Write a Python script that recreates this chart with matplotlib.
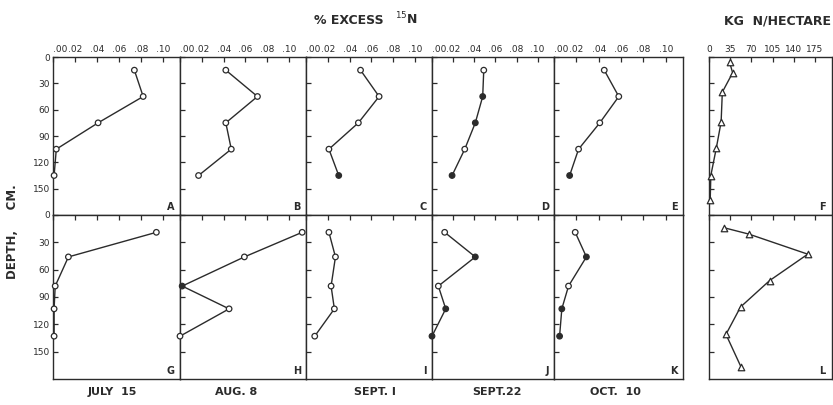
import matplotlib.pyplot as plt
import numpy as np

# depth (cm) of sampling points
depth_top = [15, 45, 75, 105, 135]
depth_bot = [19, 46, 78, 103, 133]

# % excess 15N, top row (A-E) and bottom row (G-K)
top_vals = {
    'A': [0.074, 0.082, 0.041, 0.003, 0.001],
    'B': [0.042, 0.071, 0.042, 0.047, 0.017],
    'C': [0.050, 0.067, 0.048, 0.021, 0.030],
    'D': [0.049, 0.048, 0.041, 0.031, 0.019],
    'E': [0.045, 0.058, 0.041, 0.022, 0.014],
}
bot_vals = {
    'G': [0.094, 0.014, 0.002, 0.001, 0.001],
    'H': [0.112, 0.059, 0.002, 0.045, 0.000],
    'I': [0.021, 0.027, 0.023, 0.026, 0.008],
    'J': [0.012, 0.041, 0.006, 0.013, 0.000],
    'K': [0.019, 0.029, 0.013, 0.007, 0.005],
}
filled = {'C': [4], 'D': [1, 2, 4], 'E': [4], 'J': [1, 3, 4], 'K': [1, 3, 4], 'H': [2]}

# kg N / hectare
depth_F = [6, 18, 40, 74, 104, 135, 163]
kg_F = [34, 39, 22, 20, 12, 3, 2]
depth_L = [14, 21, 43, 72, 101, 131, 167]
kg_L = [25, 66, 163, 100, 52, 28, 53]

dates = ['JULY  15', 'AUG. 8', 'SEPT. I', 'SEPT.22', 'OCT.  10']
date_x = [112, 236, 375, 497, 615]
xt = [0, 0.02, 0.04, 0.06, 0.08, 0.10]
xt_lab = ['.00', '.02', '.04', '.06', '.08', '.10']
yt = [0, 30, 60, 90, 120, 150]

ink = '#2b2b2b'
W, H = 833, 405
fig = plt.figure(figsize=(W / 100, H / 100), dpi=100)


def box(x0, x1, y0, y1):
    return [x0 / W, 1 - y1 / H, (x1 - x0) / W, (y1 - y0) / H]


def style(ax, top_row, first):
    for s in ax.spines.values():
        s.set_color(ink)
        s.set_linewidth(1.0)
    ax.set_ylim(180, 0)
    ax.set_yticks(yt)
    ax.tick_params(direction='in', length=3.5, width=0.9, color=ink,
                   labelsize=6.5, labelcolor=ink, pad=2,
                   top=True, bottom=False, labeltop=top_row, labelbottom=False,
                   left=True, labelleft=first)
    if first:
        ax.set_yticklabels([str(v) for v in yt])


cols = [53, 180, 306, 432, 554, 683]
rows = [(57, 215), (215, 379)]
for r, vals in enumerate([top_vals, bot_vals]):
    d = depth_top if r == 0 else depth_bot
    for c, (name, v) in enumerate(vals.items()):
        ax = fig.add_axes(box(cols[c], cols[c + 1], *rows[r]))
        ax.plot(v, d, '-', color=ink, lw=1.0, clip_on=False)
        fc = ['white'] * len(v)
        for i in filled.get(name, []):
            fc[i] = ink
        ax.scatter(v, d, s=16, facecolors=fc, edgecolors=ink, linewidths=0.9,
                   zorder=3, clip_on=False)
        ax.set_xlim(0, 0.1155)
        ax.set_xticks(xt)
        ax.set_xticklabels(xt_lab)
        style(ax, r == 0, c == 0)
        ax.xaxis.get_major_ticks()[0].label2.set_horizontalalignment('left')
        ax.text(0.96, 0.02, name, transform=ax.transAxes, ha='right', va='bottom',
                fontsize=7, color=ink, fontweight='bold')
        if r == 1:
            fig.text(date_x[c] / W, 1 - 392 / H, dates[c],
                     ha='center', va='center', fontsize=8, color=ink, fontweight='bold')

for r, (d, v, name) in enumerate([(depth_F, kg_F, 'F'), (depth_L, kg_L, 'L')]):
    ax = fig.add_axes(box(709, 832, *rows[r]))
    ax.plot(v, d, '-', color=ink, lw=1.0, clip_on=False)
    ax.scatter(v, d, s=22, marker='^', facecolors='white', edgecolors=ink,
               linewidths=0.9, zorder=3, clip_on=False)
    ax.set_xlim(0, 203)
    ax.set_xticks([0, 35, 70, 105, 140, 175])
    style(ax, r == 0, False)
    ax.text(0.95, 0.02, name, transform=ax.transAxes, ha='right', va='bottom',
            fontsize=7, color=ink, fontweight='bold')

fig.text(349 / W, 1 - 21 / H, '% EXCESS', ha='center', va='center', fontsize=9,
         color=ink, fontweight='bold')
fig.text(406 / W, 1 - 19 / H, r'$^{15}$N', ha='center', va='center', fontsize=9,
         color=ink, fontweight='bold')
fig.text(777 / W, 1 - 21 / H, 'KG  N/HECTARE', ha='center', va='center', fontsize=9,
         color=ink, fontweight='bold')
fig.text(13 / W, 1 - 232 / H, 'DEPTH,     CM.', rotation=90, ha='center', va='center',
         fontsize=8.5, color=ink, fontweight='bold')

fig.savefig('out.png', dpi=100, facecolor='white')
